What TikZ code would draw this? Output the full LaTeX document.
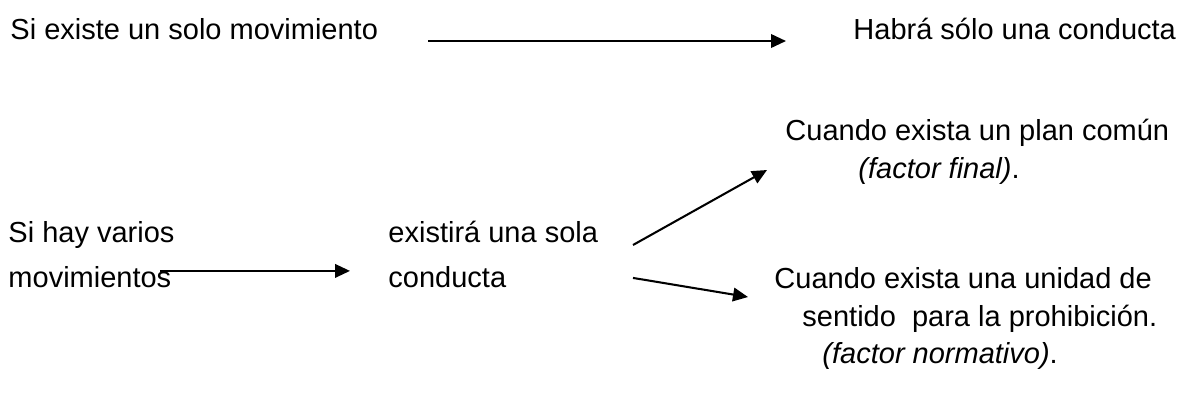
\documentclass[tikz,border=0pt]{standalone}
\usepackage{fontspec}
\setmainfont{Liberation Sans}
\usepackage{tikz}
\usetikzlibrary{positioning,arrows.meta,calc}

\begin{document}
\begin{tikzpicture}[
    x=0.4138pt, y=-0.4138pt,
    txt node/.style={
        anchor=base west,
        inner sep=0pt,
        font=\fontsize{12}{14}\selectfont
    },
    arrow/.style={-{Triangle[length=6.2pt, width=5.6pt]}, line width=0.85pt}
]
\useasboundingbox (0,0) rectangle (1183,398);

% first line
\node[txt node] (solo) at (10,39) {Si existe un solo movimiento};
\node[txt node] (habra) at (853,39) {Habrá sólo una conducta};

% left part
\node[txt node] (varios) at (8,242) {Si hay varios};
\node[txt node, below=19pt of varios.base west, anchor=base west] (movs) {movimientos};
\node[txt node] (existira) at (388,242) {existirá una sola};
\node[txt node, below=19pt of existira.base west, anchor=base west] (conducta) {conducta};

% right part
\node[txt node] (plan) at (785,140) {Cuando exista un plan común};
\node[txt node] (final) at (858,178) {\textit{(factor final)}.};
\node[txt node] (unidad) at (774,288) {Cuando exista una unidad de};
\node[txt node] (sentido) at (802,326) {sentido\ \ para la prohibición.};
\node[txt node] (normativo) at (822,363) {\textit{(factor normativo)}.};

\draw[arrow] ($(solo.base west)+(418,2)$) -- ($(habra.base west)+(-67,2)$);
\draw[arrow] ($(movs.base west)+(152,-17)$) -- ($(conducta.base west)+(-38,-17)$);
\draw[arrow] ($(existira.base west)+(245,3)$) -- ($(final.base west)+(-91,-8)$);
\draw[arrow] ($(conducta.base west)+(245,-10)$) -- ($(unidad.base west)+(-26,9)$);

\end{tikzpicture}
\end{document}
